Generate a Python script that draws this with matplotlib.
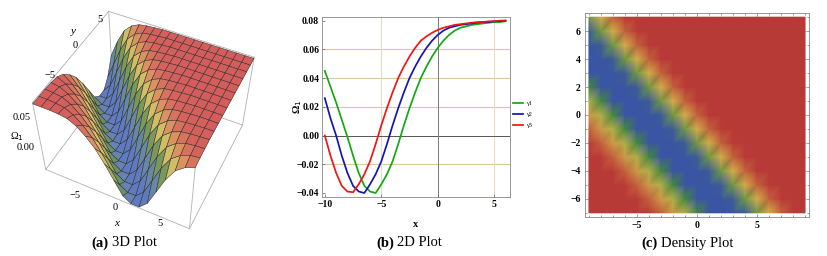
import matplotlib
matplotlib.use('Agg')
import matplotlib.pyplot as plt
from matplotlib.colors import LinearSegmentedColormap, Normalize, LightSource
from matplotlib.tri import Triangulation
import numpy as np

W, H = 827, 256

# 2D plot curves
x_curve = [-10, -9.5, -9, -8.5, -8, -7.5, -7, -6.5, -6, -5.5, -5, -4.5, -4, -3.5, -3, -2.5, -2,
           -1.5, -1, -0.5, 0, 0.5, 1, 1.5, 2, 2.5, 3, 3.5, 4, 4.5, 5, 5.5, 6]
y_green = [0.045, 0.034, 0.023, 0.011, -0.001, -0.014, -0.026, -0.035, -0.039, -0.040, -0.034,
           -0.027, -0.018, -0.006, 0.007, 0.019, 0.030, 0.040, 0.048, 0.055, 0.061, 0.066, 0.070,
           0.073, 0.075, 0.076, 0.077, 0.0775, 0.078, 0.0785, 0.079, 0.079, 0.0795]
y_blue = [0.026, 0.012, 0.000, -0.014, -0.026, -0.035, -0.039, -0.040, -0.034, -0.027, -0.018,
          -0.006, 0.007, 0.019, 0.030, 0.040, 0.048, 0.055, 0.061, 0.066, 0.070, 0.073, 0.075,
          0.076, 0.077, 0.0775, 0.078, 0.0785, 0.079, 0.079, 0.0795, 0.0795, 0.080]
y_red = [0.000, -0.014, -0.026, -0.035, -0.039, -0.0395, -0.034, -0.027, -0.018, -0.006, 0.007,
         0.019, 0.030, 0.040, 0.048, 0.055, 0.061, 0.066, 0.069, 0.0715, 0.0735, 0.075, 0.076,
         0.077, 0.0775, 0.078, 0.0785, 0.079, 0.079, 0.0795, 0.0795, 0.080, 0.080]
legend_names = ['γ1', 'γ2', 'γ3']

# surface / density samples in thousandths, rows y=-7..7, columns x=-9..9
x_grid = list(range(-9, 10))
y_grid = list(range(-7, 8))
omega_milli = [
    [80, 80, 80, 79, 77, 70, 58, 42, 20, -5, -30, -40, -40, -25, 5, 35, 58, 70, 76],
    [80, 80, 79, 77, 70, 58, 42, 20, -5, -30, -40, -40, -25, 5, 35, 58, 70, 76, 78],
    [80, 79, 77, 70, 58, 42, 20, -5, -30, -40, -40, -25, 5, 35, 58, 70, 76, 78, 79],
    [79, 77, 70, 58, 42, 20, -5, -30, -40, -40, -25, 5, 35, 58, 70, 76, 78, 79, 80],
    [77, 70, 58, 42, 20, -5, -30, -40, -40, -25, 5, 35, 58, 70, 76, 78, 79, 80, 80],
    [70, 58, 42, 20, -5, -30, -40, -40, -25, 5, 35, 58, 70, 76, 78, 79, 80, 80, 80],
    [58, 42, 20, -5, -30, -40, -40, -25, 5, 35, 58, 70, 76, 78, 79, 80, 80, 80, 80],
    [42, 20, -5, -30, -40, -40, -25, 5, 35, 58, 70, 76, 78, 79, 80, 80, 80, 80, 80],
    [20, -5, -30, -40, -40, -25, 5, 35, 58, 70, 76, 78, 79, 80, 80, 80, 80, 80, 80],
    [-5, -30, -40, -40, -25, 5, 35, 58, 70, 76, 78, 79, 80, 80, 80, 80, 80, 80, 80],
    [-30, -40, -40, -25, 5, 35, 58, 70, 76, 78, 79, 80, 80, 80, 80, 80, 80, 80, 80],
    [-40, -40, -25, 5, 35, 58, 70, 76, 78, 79, 80, 80, 80, 80, 80, 80, 80, 80, 80],
    [-40, -25, 5, 35, 58, 70, 76, 78, 79, 80, 80, 80, 80, 80, 80, 80, 80, 80, 80],
    [-25, 5, 35, 58, 70, 76, 78, 79, 80, 80, 80, 80, 80, 80, 80, 80, 80, 80, 80],
    [5, 35, 58, 70, 76, 78, 79, 80, 80, 80, 80, 80, 80, 80, 80, 80, 80, 80, 80],
]


def px_axes(fig, left, top, right, bottom, **kw):
    return fig.add_axes([left / W, 1 - bottom / H, (right - left) / W, (bottom - top) / H], **kw)


def px_text(px, py, s, **kw):
    fig.text(px / W, 1 - py / H, s, ha='center', va='center', **kw)


def band_cmap(stops, colors):
    pos = [(s + 0.04) / 0.12 for s in stops]
    return LinearSegmentedColormap.from_list('band', list(zip(pos, colors)))


def caption(px, tag, rest):
    fig.text(px / W, 1 - 243 / H, tag, ha='right', va='center', family='Liberation Serif',
             fontweight='bold', fontsize=10.5)
    fig.text((px + 3) / W, 1 - 243 / H, rest, ha='left', va='center', family='Liberation Serif',
             fontsize=10.5)


plt.rcParams['font.family'] = ['Liberation Serif', 'DejaVu Sans']
fig = plt.figure(figsize=(W / 100, H / 100), dpi=100)
X, Y = np.meshgrid(x_grid, y_grid)
Z = np.array(omega_milli) / 1000

# (a) 3D plot
ax1 = px_axes(fig, 14, 2, 274, 234, projection='3d')
ax1.patch.set_alpha(0)
ax1.set_axis_off()
ax1.set_proj_type('persp', focal_length=0.5)
ax1.view_init(elev=48, azim=-64)
ax1.set_box_aspect((16, 14.5, 10))
ax1.set_xlim(-9, 9)
ax1.set_ylim(-7, 7)
ax1.set_zlim(-0.042, 0.082)
cmap3d = band_cmap([-0.04, -0.034, 0.0, 0.04, 0.075, 0.08],
                   ['#6480c8', '#6c88c8', '#6f9a5c', '#e8cc6a', '#e06a60', '#de6260'])
ls = LightSource(azdeg=290, altdeg=60)
rgb = cmap3d(Normalize(-0.04, 0.08)(Z))
ax1.plot_surface(X, Y, Z, rstride=1, cstride=1, facecolors=rgb, shade=True, lightsource=ls,
                 edgecolor='#2a2a2a', linewidth=0.35, antialiased=True)
bx, by, bz = (-9, 9), (-7, 7), (-0.042, 0.082)
edge = dict(color='#b0b0b0', lw=0.6)
for a in by:
    for b in bz:
        ax1.plot(bx, (a, a), (b, b), **edge)
for a in bx:
    for b in bz:
        ax1.plot((a, a), by, (b, b), **edge)
for a in bx:
    for b in by:
        ax1.plot((a, a), (b, b), bz, **edge)
px_text(75, 196, '−5', fontsize=7.5)
px_text(115, 208, '0', fontsize=7.5)
px_text(160, 223, '5', fontsize=7.5)
px_text(50, 75, '−5', fontsize=7.5)
px_text(75, 45, '0', fontsize=7.5)
px_text(100, 20, '5', fontsize=7.5)
px_text(22, 117, '0.05', fontsize=7.5)
px_text(26, 148, '0.00', fontsize=7.5)
px_text(117, 223, 'x', fontsize=8, style='italic')
px_text(73, 32, 'y', fontsize=8, style='italic')
px_text(17, 137, 'Ω$_1$', fontsize=7.5)

# (b) 2D plot
ax2 = px_axes(fig, 322, 17, 510, 197)
for v in (-0.02, 0.02, 0.04, 0.06):
    ax2.axhline(v, color='#dcc8a4', lw=0.8, zorder=1)
for v in (-5, 5):
    ax2.axvline(v, color='#e6dcc4', lw=0.8, zorder=1)
ax2.axhline(0, color='#555555', lw=0.7, zorder=1)
ax2.axvline(0, color='#777777', lw=0.7, zorder=1)
ax2.plot(x_curve, y_green, color='#12a812', lw=1.25, label=legend_names[0])
ax2.plot(x_curve, y_blue, color='#1414b4', lw=1.25, label=legend_names[1])
ax2.plot(x_curve, y_red, color='#f01414', lw=1.25, label=legend_names[2])
ax2.set_xlim(-10.25, 6.4)
ax2.set_ylim(-0.0428, 0.0825)
ax2.set_xticks([-10, -5, 0, 5], ['−10', '−5', '0', '5'])
ax2.set_yticks([-0.04, -0.02, 0, 0.02, 0.04, 0.06, 0.08],
               ['−0.04', '−0.02', '0.00', '0.02', '0.04', '0.06', '0.08'])
ax2.tick_params(labelsize=7, length=2, width=0.5, pad=2, direction='in', color='#666666')
for t in ax2.get_xticklabels() + ax2.get_yticklabels():
    t.set_fontweight('bold')
for s in ax2.spines.values():
    s.set_color('#888888')
    s.set_linewidth(0.6)
ax2.set_xlabel('x', fontsize=7.5, fontweight='bold', labelpad=8)
ax2.set_ylabel('Ω$_1$', fontsize=7.5, fontweight='bold', labelpad=-5)
ax2.legend(loc='center left', bbox_to_anchor=(1.0, 0.46), frameon=False, fontsize=4.5,
           handlelength=1.6, labelspacing=0.9, borderpad=0, handletextpad=0.4)

# (c) density plot, diagonals cut across the band so the edges come out toothed
ax3 = px_axes(fig, 585, 13, 809, 217)
cmap2d = band_cmap([-0.04, -0.028, -0.006, 0.03, 0.07, 0.08],
                   ['#3a55a4', '#3a55a4', '#40883c', '#d8c24e', '#b93a36', '#b83a36'])
nx, ny = len(x_grid), len(y_grid)
tris = []
for j in range(ny - 1):
    for i in range(nx - 1):
        a = j * nx + i
        tris.append([a, a + 1, a + nx + 1])
        tris.append([a, a + nx + 1, a + nx])
tri = Triangulation(X.ravel(), Y.ravel(), tris)
ax3.tripcolor(tri, Z.ravel(), cmap=cmap2d, norm=Normalize(-0.04, 0.08), shading='gouraud')
ax3.set_xlim(-9.33, 9.33)
ax3.set_ylim(-7.3, 7.3)
ax3.set_xticks([-5, 0, 5], ['−5', '0', '5'])
ax3.set_yticks([-6, -4, -2, 0, 2, 4, 6], ['−6', '−4', '−2', '0', '2', '4', '6'])
ax3.set_xticks(np.arange(-9, 10), minor=True)
ax3.set_yticks(np.arange(-7, 8), minor=True)
ax3.tick_params(which='both', top=True, right=True, direction='in', width=0.4, color='#555555')
ax3.tick_params(which='major', labelsize=7, length=2.5, pad=3)
ax3.tick_params(which='minor', length=1.2)
for t in ax3.get_xticklabels() + ax3.get_yticklabels():
    t.set_fontweight('bold')
for s in ax3.spines.values():
    s.set_color('#888888')
    s.set_linewidth(0.6)

caption(109, '(a)', '3D Plot')
caption(394, '(b)', '2D Plot')
caption(658, '(c)', 'Density Plot')

fig.savefig('out.png', dpi=100)
